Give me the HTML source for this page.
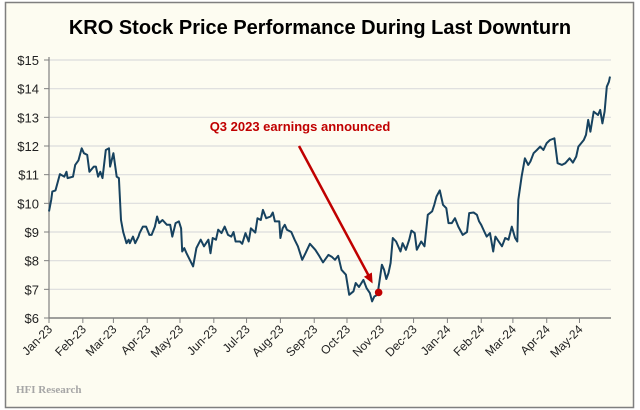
<!DOCTYPE html>
<html><head><meta charset="utf-8"><style>
html,body{margin:0;padding:0;background:#fff;}
svg{display:block;font-family:"Liberation Sans",sans-serif;}
</style></head><body>
<svg id="chart" width="640" height="410">
<rect x="5.5" y="2.5" width="628" height="405" fill="#fdfcf1" stroke="#7f7f7f" stroke-width="1.5"/>
<text x="320" y="34" text-anchor="middle" font-size="20" font-weight="bold" fill="#000">KRO Stock Price Performance During Last Downturn</text>
<g id="grid"></g><g id="axes"></g><g id="series"></g><g id="annot"></g>
<text x="16" y="393" font-family="Liberation Serif,serif" font-weight="bold" font-size="11" fill="#a6a6a6">HFI Research</text>
</svg>
<script>
const days=[0,2,3,6,10,14,16,17,22,24,27,30,32,35,37,41,43,45,47,49,52,55,56,59,62,64,66,68,71,73,74,77,79,82,83,86,89,92,94,97,99,101,104,108,111,113,116,119,121,122,124,126,129,132,135,139,142,146,148,150,153,155,158,161,164,167,169,171,175,177,180,183,185,189,191,194,196,199,203,205,207,211,212,214,216,218,222,225,228,232,235,239,244,247,251,256,259,262,265,268,272,275,279,281,284,288,291,294,296,298,301,305,307,309,311,313,315,318,322,324,327,330,332,335,337,341,344,347,351,353,355,358,361,364,366,369,372,375,379,383,385,389,392,394,396,399,401,404,407,409,412,415,418,421,424,427,429,430,433,436,439,441,444,447,450,453,456,459,463,466,470,473,477,480,483,485,490,492,494,496,499,503,505,507,509,511,513,514];
const prices=[9.72,10.12,10.41,10.45,11.02,10.93,11.1,10.88,10.93,11.34,11.5,11.92,11.75,11.69,11.1,11.28,11.28,10.93,11.1,10.88,11.86,11.92,11.28,11.75,10.93,10.88,9.42,9.0,8.61,8.73,8.61,8.84,8.61,8.84,8.96,9.19,9.19,8.9,8.9,9.19,9.54,9.31,9.42,9.25,9.25,8.84,9.31,9.37,9.13,8.32,8.44,8.26,8.03,7.8,8.44,8.73,8.5,8.73,8.26,8.79,8.73,9.08,8.96,9.19,8.9,8.84,9.0,8.67,8.67,8.59,8.96,8.67,9.13,8.98,9.48,9.42,9.77,9.48,9.54,9.68,9.37,9.37,8.79,9.13,9.25,9.08,9.0,8.73,8.5,8.03,8.26,8.59,8.38,8.2,7.94,8.2,8.14,8.03,8.17,7.68,7.51,6.81,6.93,7.22,7.08,7.33,7.04,6.87,6.58,6.75,6.81,7.86,7.68,7.36,7.57,7.92,8.79,8.67,8.32,8.61,8.38,8.73,9.05,8.96,8.38,8.67,8.5,9.6,9.72,9.95,10.24,10.45,9.95,9.83,9.31,9.31,9.48,9.19,8.9,9.0,9.66,9.68,9.6,9.37,9.25,9.0,8.84,8.96,8.32,8.84,8.67,8.5,8.79,8.73,9.19,8.79,8.67,10.12,10.93,11.57,11.34,11.46,11.75,11.86,11.98,11.86,12.1,12.21,12.27,11.4,11.34,11.4,11.57,11.42,11.63,11.98,12.21,12.39,12.91,12.5,13.2,13.08,13.26,12.79,13.2,14.07,14.24,14.42];
const yTicks=[6,7,8,9,10,11,12,13,14,15];
const monthLabels=["Jan-23","Feb-23","Mar-23","Apr-23","May-23","Jun-23","Jul-23","Aug-23","Sep-23","Oct-23","Nov-23","Dec-23","Jan-24","Feb-24","Mar-24","Apr-24","May-24"];
const eventDay=[302];
const eventPrice=[6.89];
const eventText=["Q3 2023 earnings announced"];

const NS="http://www.w3.org/2000/svg";
const X0=49,X1=611,Y0=318,Y1=60,PXD=1.0915;
const x=d=>X0+d*PXD;
const y=p=>Y0-(p-6)*(Y0-Y1)/9;
function mk(tag,attrs,parent){const e=document.createElementNS(NS,tag);for(const k in attrs)e.setAttribute(k,attrs[k]);parent.appendChild(e);return e;}
const grid=document.getElementById('grid'),axes=document.getElementById('axes'),series=document.getElementById('series'),annot=document.getElementById('annot');
yTicks.forEach(v=>{
  if(v>6){const g=mk('line',{x1:X0,x2:X1,y1:y(v),y2:y(v),stroke:'#dcdcdc','stroke-width':1.2},grid);
  
  }
  const tk=mk('line',{x1:X0-5,x2:X0,y1:y(v),y2:y(v),stroke:'#808080'},axes);
  
  
  const t=mk('text',{x:X0-10,y:y(v)+5,'text-anchor':'end','font-size':13,fill:'#222'},axes);
  t.textContent='$'+v;
  
  
});
const ya=mk('line',{x1:X0,x2:X0,y1:Y1-3,y2:Y0,stroke:'#808080','stroke-width':1.2},axes);


const xa=mk('line',{x1:X0,x2:X1,y1:Y0,y2:Y0,stroke:'#808080','stroke-width':1.5},axes);


const base=Date.UTC(2023,0,1);
monthLabels.forEach((m,i)=>{
  const d=(Date.UTC(2023,i,1)-base)/86400000;const px=x(d);
  const tk=mk('line',{x1:px,x2:px,y1:Y0,y2:Y0+5,stroke:'#808080'},axes);
  
  
  const t=mk('text',{x:px+4,y:Y0+12,'text-anchor':'end','font-size':12,fill:'#222',transform:`rotate(-45 ${px+4} ${Y0+12})`},axes);
  t.textContent=m;
  
  
});
const pl=mk('polyline',{points:days.map((d,i)=>x(d).toFixed(1)+','+y(prices[i]).toFixed(1)).join(' '),fill:'none',stroke:'#17425f','stroke-width':2,'stroke-linejoin':'round'},series);


const ex=x(eventDay[0]),ey=y(eventPrice[0]);
const tx=300,ty=131;
const lbl=mk('text',{x:tx,y:ty,'text-anchor':'middle','font-size':13,'font-weight':'bold',fill:'#c00000'},annot);
lbl.textContent=eventText[0];


const ax2=ex-6,ay2=ey-9,ax1=299,ay1=146;
const ar=mk('line',{x1:ax1,y1:ay1,x2:ax2-3,y2:ay2-6,stroke:'#c00000','stroke-width':2.5},annot);


const ang=Math.atan2(ay2-ay1,ax2-ax1),L=10,W=4.5;
const hx=ax2-L*Math.cos(ang),hy=ay2-L*Math.sin(ang);
const head=mk('polygon',{points:`${ax2},${ay2} ${hx-W*Math.sin(ang)},${hy+W*Math.cos(ang)} ${hx+W*Math.sin(ang)},${hy-W*Math.cos(ang)}`,fill:'#c00000'},annot);


const dot=mk('circle',{cx:ex,cy:ey,r:3.8,fill:'#c00000'},annot);


</script>
</body></html>
